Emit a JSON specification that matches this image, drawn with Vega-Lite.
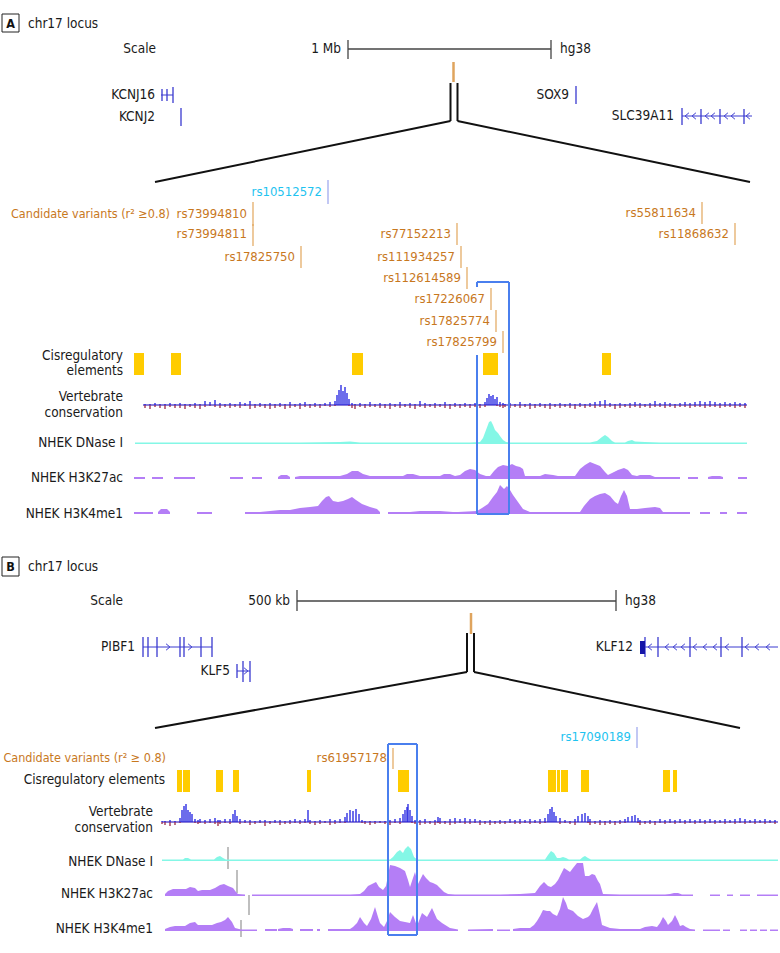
{
"$schema":"https://vega.github.io/schema/vega-lite/v6.json",
"width":780,"height":953,"padding":0,"autosize":{"type":"none"},
"background":"white",
"config":{"view":{"stroke":null},"font":"DejaVu Sans Condensed"},
"resolve":{"scale":{"y":"independent"}},
"datasets":{
"txtR":[
{"x":156,"y":49,"t":"Scale"},{"x":341,"y":49,"t":"1 Mb"},{"x":155,"y":95,"t":"KCNJ16"},{"x":155,"y":117,"t":"KCNJ2"},{"x":569,"y":95,"t":"SOX9"},{"x":674,"y":116,"t":"SLC39A11"},
{"x":123,"y":356,"t":"Cisregulatory"},{"x":123,"y":371,"t":"elements"},{"x":123,"y":397,"t":"Vertebrate"},{"x":123,"y":413,"t":"conservation"},{"x":123,"y":443,"t":"NHEK DNase I"},{"x":123,"y":478,"t":"NHEK H3K27ac"},{"x":123,"y":514,"t":"NHEK H3K4me1"},
{"x":123,"y":601,"t":"Scale"},{"x":290,"y":601,"t":"500 kb"},{"x":135,"y":647,"t":"PIBF1"},{"x":230,"y":671,"t":"KLF5"},{"x":633,"y":647,"t":"KLF12"},
{"x":165,"y":780,"t":"Cisregulatory elements"},{"x":153,"y":812,"t":"Vertebrate"},{"x":153,"y":828,"t":"conservation"},{"x":153,"y":862,"t":"NHEK DNase I"},{"x":153,"y":894,"t":"NHEK H3K27ac"},{"x":153,"y":929,"t":"NHEK H3K4me1"}],
"txtL":[{"x":28,"y":24,"t":"chr17 locus"},{"x":560,"y":49,"t":"hg38"},{"x":28,"y":567,"t":"chr17 locus"},{"x":625,"y":601,"t":"hg38"}],
"panels":[{"x":2,"x2":19,"y":14,"y2":32,"cx":10.5,"cy":23.5,"t":"A"},{"x":2,"x2":19,"y":557,"y2":576,"cx":10.5,"cy":567,"t":"B"}],
"cand":[{"x":170,"y":214,"t":"Candidate variants (r² ≥0.8)"},{"x":166,"y":758,"t":"Candidate variants (r² ≥ 0.8)"}],
"variants":[
{"x":328,"y":192,"t":"rs10512572","k":"l","top":180,"bot":204},
{"x":253,"y":214,"t":"rs73994810","k":"c","top":202,"bot":226},
{"x":253,"y":234,"t":"rs73994811","k":"c","top":224,"bot":246},
{"x":301,"y":257,"t":"rs17825750","k":"c","top":246,"bot":268},
{"x":457,"y":234,"t":"rs77152213","k":"c","top":223,"bot":245},
{"x":461,"y":257,"t":"rs111934257","k":"c","top":246,"bot":268},
{"x":467,"y":278,"t":"rs112614589","k":"c","top":267,"bot":289},
{"x":491,"y":299,"t":"rs17226067","k":"c","top":288,"bot":310},
{"x":496,"y":321,"t":"rs17825774","k":"c","top":310,"bot":332},
{"x":503,"y":342,"t":"rs17825799","k":"c","top":331,"bot":353},
{"x":702,"y":213,"t":"rs55811634","k":"c","top":202,"bot":224},
{"x":735,"y":234,"t":"rs11868632","k":"c","top":223,"bot":245},
{"x":637,"y":737,"t":"rs17090189","k":"l","top":727,"bot":748},
{"x":393,"y":758,"t":"rs61957178","k":"c","top":748,"bot":769}],
"scl":[{"x":348,"y":49,"x2":551,"y2":49},{"x":348,"y":40,"x2":348,"y2":59},{"x":551,"y":40,"x2":551,"y2":59},{"x":297,"y":601,"x2":616,"y2":601},{"x":297,"y":590,"x2":297,"y2":611},{"x":616,"y":590,"x2":616,"y2":611}],
"brk":[{"x":450.5,"y":83,"x2":450.5,"y2":121},{"x":457.5,"y":83,"x2":457.5,"y2":121},{"x":450.5,"y":121,"x2":155,"y2":182},{"x":457.5,"y":121,"x2":750,"y2":182},
{"x":467,"y":633,"x2":467,"y2":672},{"x":474,"y":633,"x2":474,"y2":672},{"x":467,"y":672,"x2":155,"y2":728},{"x":474,"y":672,"x2":740,"y2":728}],
"loc":[{"x":453.5,"y":62,"x2":453.5,"y2":82},{"x":471,"y":613,"x2":471,"y2":634}],
"bbox":[{"x":477,"y":282,"x2":509,"y2":282},{"x":509,"y":282,"x2":509,"y2":514},{"x":477,"y":514,"x2":509,"y2":514},{"x":477,"y":355,"x2":477,"y2":514},{"x":477,"y":282,"x2":477,"y2":287},
{"x":388,"y":744,"x2":417,"y2":744},{"x":417,"y":744,"x2":417,"y2":935},{"x":388,"y":935,"x2":417,"y2":935},{"x":388,"y":744,"x2":388,"y2":935}],
"gry":[{"x":228,"y":847,"x2":228,"y2":869},{"x":237,"y":870,"x2":237,"y2":893},{"x":249,"y":895,"x2":249,"y2":915},{"x":241,"y":920,"x2":241,"y2":937}],
"gl":[{"x":161,"y":95,"x2":173,"y2":95},{"x":682,"y":116,"x2":752,"y2":116},{"x":143,"y":647,"x2":212,"y2":647},{"x":237,"y":671,"x2":250,"y2":671},{"x":640,"y":647,"x2":778,"y2":647}],
"gt":[{"x":162,"y":89,"y2":101},{"x":167,"y":89,"y2":101},{"x":173,"y":87,"y2":103},{"x":181,"y":108,"y2":126},{"x":576,"y":86,"y2":104},
{"x":682,"y":108,"y2":125},{"x":701,"y":109,"y2":124},{"x":720,"y":109,"y2":124},{"x":744,"y":109,"y2":124},
{"x":143,"y":637,"y2":657},{"x":148,"y":637,"y2":657},{"x":157,"y":637,"y2":657},{"x":180,"y":637,"y2":657},{"x":184,"y":637,"y2":657},{"x":201,"y":637,"y2":657},{"x":212,"y":637,"y2":657},
{"x":237,"y":664,"y2":678},{"x":243,"y":661,"y2":682},{"x":250,"y":661,"y2":682},
{"x":645,"y":637,"y2":657},{"x":658,"y":637,"y2":657},{"x":690,"y":637,"y2":657},{"x":721,"y":637,"y2":657},{"x":742,"y":637,"y2":657}],
"chL":[{"x":687,"y":116},{"x":694,"y":116},{"x":707,"y":116},{"x":713,"y":116},{"x":726,"y":116},{"x":733,"y":116},{"x":748,"y":116},
{"x":650,"y":647},{"x":667,"y":647},{"x":675,"y":647},{"x":683,"y":647},{"x":695,"y":647},{"x":705,"y":647},{"x":715,"y":647},{"x":727,"y":647},{"x":747,"y":647},{"x":757,"y":647},{"x":768,"y":647}],
"chR":[{"x":168,"y":647},{"x":190,"y":647},{"x":246,"y":671}],
"gb":[{"x":640,"x2":645,"y":641,"y2":654}],
"cis":[{"x":134,"x2":144,"y":353,"y2":375},{"x":171,"x2":181,"y":353,"y2":375},{"x":352,"x2":363,"y":353,"y2":375},{"x":483,"x2":498,"y":353,"y2":375},{"x":602,"x2":611,"y":353,"y2":375},
{"x":177,"x2":182,"y":770,"y2":792},{"x":183,"x2":190,"y":770,"y2":792},{"x":216,"x2":223,"y":770,"y2":792},{"x":233,"x2":239,"y":770,"y2":792},{"x":307,"x2":311,"y":770,"y2":792},{"x":398,"x2":409,"y":770,"y2":792},{"x":548,"x2":556,"y":770,"y2":792},{"x":557,"x2":560,"y":770,"y2":792},{"x":561,"x2":568,"y":770,"y2":792},{"x":581,"x2":589,"y":770,"y2":792},{"x":663,"x2":670,"y":770,"y2":792},{"x":673,"x2":677,"y":770,"y2":792}],
"consA":[
{"x":145,"p":1,"n":-3},{"x":150,"p":1,"n":-4},{"x":155,"p":2,"n":-2},{"x":160,"p":1,"n":-3},{"x":165,"p":1,"n":-4},{"x":170,"p":2,"n":-2},{"x":175,"p":1,"n":-3},{"x":180,"p":2,"n":-3},{"x":185,"p":1,"n":-4},{"x":190,"p":1,"n":-2},{"x":195,"p":2,"n":-3},{"x":200,"p":1,"n":-4},{"x":205,"p":4,"n":-2},{"x":210,"p":3,"n":-1},{"x":215,"p":5,"n":-2},{"x":220,"p":2,"n":-3},{"x":225,"p":1,"n":-2},{"x":230,"p":2,"n":-3},{"x":235,"p":1,"n":-2},{"x":240,"p":3,"n":-3},{"x":245,"p":2,"n":-1},{"x":250,"p":4,"n":-4},{"x":255,"p":1,"n":-3},{"x":260,"p":2,"n":-2},{"x":265,"p":1,"n":-3},{"x":270,"p":2,"n":-4},{"x":275,"p":1,"n":-3},{"x":280,"p":2,"n":-2},{"x":285,"p":1,"n":-4},{"x":290,"p":3,"n":-3},{"x":295,"p":1,"n":-2},{"x":300,"p":2,"n":-4},{"x":305,"p":3,"n":-2},{"x":310,"p":1,"n":-3},{"x":315,"p":2,"n":-2},{"x":320,"p":1,"n":-3},{"x":325,"p":2,"n":-1},{"x":330,"p":3,"n":-2},{"x":335,"p":4,"n":-1},{"x":337,"p":10,"n":0},{"x":339,"p":15,"n":0},{"x":341,"p":20,"n":0},{"x":343,"p":14,"n":0},{"x":345,"p":18,"n":0},{"x":347,"p":12,"n":0},{"x":349,"p":6,"n":-1},{"x":352,"p":2,"n":-3},{"x":355,"p":1,"n":-4},{"x":360,"p":2,"n":-2},{"x":365,"p":1,"n":-3},{"x":370,"p":3,"n":-2},{"x":375,"p":1,"n":-2},{"x":380,"p":2,"n":-3},{"x":385,"p":1,"n":-3},{"x":390,"p":2,"n":-4},{"x":395,"p":1,"n":-2},{"x":400,"p":3,"n":-3},{"x":405,"p":1,"n":-2},{"x":410,"p":2,"n":-3},{"x":415,"p":1,"n":-4},{"x":420,"p":4,"n":-2},{"x":425,"p":2,"n":-3},{"x":430,"p":1,"n":-2},{"x":435,"p":2,"n":-3},{"x":440,"p":1,"n":-2},{"x":445,"p":3,"n":-3},{"x":450,"p":1,"n":-4},{"x":455,"p":2,"n":-2},{"x":460,"p":1,"n":-3},{"x":465,"p":2,"n":-2},{"x":470,"p":1,"n":-3},{"x":475,"p":2,"n":-2},{"x":480,"p":1,"n":-3},{"x":485,"p":3,"n":-2},{"x":487,"p":7,"n":0},{"x":489,"p":11,"n":0},{"x":491,"p":9,"n":0},{"x":493,"p":10,"n":0},{"x":495,"p":6,"n":0},{"x":497,"p":8,"n":-1},{"x":500,"p":3,"n":-2},{"x":503,"p":2,"n":-3},{"x":505,"p":1,"n":-2},{"x":510,"p":2,"n":-3},{"x":515,"p":1,"n":-2},{"x":520,"p":3,"n":-3},{"x":525,"p":1,"n":-2},{"x":530,"p":2,"n":-4},{"x":535,"p":1,"n":-3},{"x":540,"p":2,"n":-2},{"x":545,"p":1,"n":-3},{"x":550,"p":2,"n":-4},{"x":555,"p":1,"n":-2},{"x":560,"p":2,"n":-3},{"x":565,"p":1,"n":-2},{"x":570,"p":2,"n":-3},{"x":575,"p":1,"n":-4},{"x":580,"p":2,"n":-2},{"x":585,"p":1,"n":-3},{"x":590,"p":2,"n":-2},{"x":595,"p":3,"n":-3},{"x":600,"p":4,"n":-2},{"x":605,"p":5,"n":-3},{"x":610,"p":2,"n":-2},{"x":615,"p":1,"n":-4},{"x":620,"p":2,"n":-3},{"x":625,"p":1,"n":-2},{"x":630,"p":2,"n":-3},{"x":635,"p":3,"n":-2},{"x":640,"p":2,"n":-3},{"x":645,"p":1,"n":-2},{"x":650,"p":2,"n":-3},{"x":655,"p":4,"n":-2},{"x":660,"p":2,"n":-2},{"x":665,"p":3,"n":-3},{"x":670,"p":2,"n":-2},{"x":675,"p":1,"n":-3},{"x":680,"p":2,"n":-2},{"x":685,"p":3,"n":-2},{"x":690,"p":2,"n":-3},{"x":695,"p":3,"n":-2},{"x":700,"p":4,"n":-2},{"x":705,"p":3,"n":-3},{"x":710,"p":4,"n":-2},{"x":715,"p":3,"n":-2},{"x":720,"p":2,"n":-3},{"x":725,"p":3,"n":-2},{"x":730,"p":2,"n":-2},{"x":735,"p":3,"n":-3},{"x":740,"p":2,"n":-2},{"x":745,"p":2,"n":-3}],
"consB":[
{"x":162,"p":1,"n":-2},{"x":165,"p":1,"n":-3},{"x":170,"p":2,"n":-4},{"x":175,"p":1,"n":-3},{"x":180,"p":4,"n":-1},{"x":182,"p":12,"n":0},{"x":184,"p":16,"n":0},{"x":186,"p":18,"n":0},{"x":188,"p":12,"n":0},{"x":190,"p":10,"n":0},{"x":192,"p":8,"n":0},{"x":195,"p":3,"n":-1},{"x":198,"p":2,"n":-2},{"x":200,"p":3,"n":-1},{"x":205,"p":2,"n":-2},{"x":210,"p":3,"n":-1},{"x":215,"p":4,"n":-2},{"x":218,"p":2,"n":-4},{"x":220,"p":2,"n":-2},{"x":225,"p":3,"n":-1},{"x":230,"p":3,"n":-2},{"x":233,"p":8,"n":0},{"x":235,"p":12,"n":0},{"x":237,"p":6,"n":0},{"x":240,"p":3,"n":-2},{"x":245,"p":2,"n":-1},{"x":250,"p":2,"n":-3},{"x":255,"p":1,"n":-2},{"x":260,"p":2,"n":-1},{"x":265,"p":2,"n":-4},{"x":270,"p":1,"n":-2},{"x":275,"p":2,"n":-1},{"x":280,"p":2,"n":-3},{"x":285,"p":1,"n":-2},{"x":290,"p":2,"n":-2},{"x":295,"p":3,"n":-1},{"x":300,"p":2,"n":-2},{"x":305,"p":3,"n":-1},{"x":308,"p":12,"n":0},{"x":310,"p":2,"n":-2},{"x":315,"p":1,"n":-3},{"x":320,"p":2,"n":-2},{"x":325,"p":1,"n":-1},{"x":330,"p":3,"n":-3},{"x":335,"p":2,"n":-2},{"x":340,"p":3,"n":-1},{"x":345,"p":5,"n":-1},{"x":347,"p":9,"n":0},{"x":350,"p":12,"n":0},{"x":353,"p":11,"n":0},{"x":356,"p":13,"n":0},{"x":359,"p":8,"n":0},{"x":362,"p":2,"n":-1},{"x":365,"p":1,"n":-2},{"x":370,"p":1,"n":-3},{"x":375,"p":1,"n":-2},{"x":380,"p":1,"n":-1},{"x":385,"p":1,"n":-2},{"x":390,"p":2,"n":-3},{"x":395,"p":3,"n":-1},{"x":400,"p":4,"n":-2},{"x":403,"p":8,"n":0},{"x":405,"p":12,"n":0},{"x":407,"p":15,"n":0},{"x":408,"p":18,"n":0},{"x":410,"p":12,"n":0},{"x":412,"p":6,"n":-1},{"x":415,"p":2,"n":-2},{"x":420,"p":2,"n":-3},{"x":425,"p":3,"n":-2},{"x":430,"p":1,"n":-2},{"x":435,"p":2,"n":-3},{"x":438,"p":5,"n":-1},{"x":440,"p":4,"n":-2},{"x":445,"p":1,"n":-2},{"x":450,"p":3,"n":-3},{"x":455,"p":4,"n":-2},{"x":460,"p":3,"n":-1},{"x":465,"p":4,"n":-2},{"x":470,"p":3,"n":-2},{"x":475,"p":3,"n":-1},{"x":480,"p":2,"n":-3},{"x":485,"p":1,"n":-2},{"x":490,"p":2,"n":-3},{"x":495,"p":1,"n":-2},{"x":500,"p":2,"n":-2},{"x":505,"p":1,"n":-2},{"x":510,"p":3,"n":-1},{"x":515,"p":2,"n":-2},{"x":520,"p":3,"n":-2},{"x":525,"p":2,"n":-1},{"x":530,"p":3,"n":-2},{"x":535,"p":2,"n":-1},{"x":540,"p":3,"n":-2},{"x":545,"p":4,"n":-1},{"x":548,"p":8,"n":0},{"x":550,"p":13,"n":0},{"x":552,"p":15,"n":0},{"x":554,"p":10,"n":0},{"x":556,"p":6,"n":0},{"x":560,"p":4,"n":-2},{"x":565,"p":2,"n":-1},{"x":570,"p":1,"n":-2},{"x":575,"p":3,"n":-3},{"x":578,"p":6,"n":0},{"x":582,"p":8,"n":0},{"x":585,"p":9,"n":0},{"x":588,"p":6,"n":-1},{"x":590,"p":3,"n":-3},{"x":595,"p":1,"n":-2},{"x":600,"p":2,"n":-3},{"x":605,"p":1,"n":-3},{"x":610,"p":2,"n":-2},{"x":615,"p":1,"n":-3},{"x":620,"p":2,"n":-2},{"x":625,"p":3,"n":-1},{"x":628,"p":5,"n":0},{"x":632,"p":6,"n":0},{"x":635,"p":7,"n":0},{"x":638,"p":4,"n":-1},{"x":640,"p":2,"n":-3},{"x":645,"p":1,"n":-2},{"x":650,"p":2,"n":-2},{"x":655,"p":1,"n":-3},{"x":660,"p":3,"n":-1},{"x":665,"p":2,"n":-2},{"x":670,"p":3,"n":-1},{"x":675,"p":2,"n":-2},{"x":680,"p":3,"n":-1},{"x":685,"p":2,"n":-2},{"x":690,"p":3,"n":-1},{"x":695,"p":2,"n":-2},{"x":700,"p":3,"n":-1},{"x":705,"p":2,"n":-2},{"x":710,"p":3,"n":-1},{"x":715,"p":2,"n":-2},{"x":720,"p":2,"n":-1},{"x":725,"p":3,"n":-2},{"x":730,"p":2,"n":-1},{"x":735,"p":3,"n":-2},{"x":740,"p":4,"n":-1},{"x":745,"p":3,"n":-2},{"x":750,"p":2,"n":-1},{"x":755,"p":3,"n":-2},{"x":760,"p":2,"n":-1},{"x":765,"p":3,"n":-2},{"x":770,"p":2,"n":-1},{"x":775,"p":2,"n":-2}],
"dnA":[{"s":1,"x":135,"v":1.5},{"s":1,"x":200,"v":1.5},{"s":1,"x":300,"v":1.5},{"s":1,"x":340,"v":2},{"s":1,"x":350,"v":2.5},{"s":1,"x":360,"v":1.5},{"s":1,"x":470,"v":1.5},{"s":1,"x":480,"v":2},{"s":1,"x":483,"v":6},{"s":1,"x":486,"v":14},{"s":1,"x":489,"v":22},{"s":1,"x":491,"v":23},{"s":1,"x":493,"v":19},{"s":1,"x":495,"v":14},{"s":1,"x":498,"v":11},{"s":1,"x":500,"v":8},{"s":1,"x":503,"v":4},{"s":1,"x":506,"v":2},{"s":1,"x":510,"v":1.5},{"s":1,"x":590,"v":1.5},{"s":1,"x":597,"v":3},{"s":1,"x":602,"v":7},{"s":1,"x":605,"v":9},{"s":1,"x":608,"v":7},{"s":1,"x":612,"v":3},{"s":1,"x":615,"v":1.5},{"s":1,"x":625,"v":1.5},{"s":1,"x":628,"v":3},{"s":1,"x":632,"v":4},{"s":1,"x":635,"v":2.5},{"s":1,"x":645,"v":2},{"s":1,"x":660,"v":1.5},{"s":1,"x":747,"v":1.5}],
"k27A":[{"s":1,"x":134,"v":2},{"s":1,"x":145,"v":2},{"s":2,"x":152,"v":2},{"s":2,"x":163,"v":2},{"s":3,"x":174,"v":2},{"s":3,"x":195,"v":2},{"s":4,"x":230,"v":2},{"s":4,"x":243,"v":2},{"s":5,"x":252,"v":2},{"s":5,"x":262,"v":2},{"s":6,"x":278,"v":2},{"s":6,"x":281,"v":4},{"s":6,"x":287,"v":4},{"s":6,"x":290,"v":2},
{"s":7,"x":295,"v":2},{"s":7,"x":300,"v":3},{"s":7,"x":320,"v":3},{"s":7,"x":340,"v":3},{"s":7,"x":347,"v":5},{"s":7,"x":352,"v":8},{"s":7,"x":358,"v":8},{"s":7,"x":363,"v":5},{"s":7,"x":370,"v":3},{"s":7,"x":390,"v":3},{"s":7,"x":403,"v":3},{"s":7,"x":407,"v":5},{"s":7,"x":413,"v":5},{"s":7,"x":420,"v":3},{"s":7,"x":440,"v":3},{"s":7,"x":444,"v":5},{"s":7,"x":450,"v":5},{"s":7,"x":455,"v":3},{"s":7,"x":460,"v":4},{"s":7,"x":465,"v":8},{"s":7,"x":470,"v":10},{"s":7,"x":475,"v":9},{"s":7,"x":480,"v":5},{"s":7,"x":486,"v":3},{"s":7,"x":490,"v":3},{"s":7,"x":494,"v":8},{"s":7,"x":498,"v":12},{"s":7,"x":503,"v":14},{"s":7,"x":508,"v":13},{"s":7,"x":512,"v":15},{"s":7,"x":516,"v":13},{"s":7,"x":520,"v":12},{"s":7,"x":523,"v":10},{"s":7,"x":525,"v":3},{"s":7,"x":540,"v":3},{"s":7,"x":545,"v":5},{"s":7,"x":553,"v":4},{"s":7,"x":558,"v":3},{"s":7,"x":575,"v":3},{"s":7,"x":580,"v":10},{"s":7,"x":585,"v":14},{"s":7,"x":590,"v":17},{"s":7,"x":595,"v":15},{"s":7,"x":600,"v":13},{"s":7,"x":605,"v":7},{"s":7,"x":608,"v":4},{"s":7,"x":612,"v":6},{"s":7,"x":618,"v":9},{"s":7,"x":624,"v":11},{"s":7,"x":628,"v":9},{"s":7,"x":632,"v":4},{"s":7,"x":637,"v":3},{"s":7,"x":640,"v":4},{"s":7,"x":650,"v":4},{"s":7,"x":655,"v":2},{"s":7,"x":680,"v":2},
{"s":8,"x":688,"v":2},{"s":8,"x":698,"v":2},{"s":9,"x":708,"v":2},{"s":9,"x":712,"v":3},{"s":9,"x":720,"v":3},{"s":9,"x":723,"v":2},{"s":10,"x":738,"v":2},{"s":10,"x":747,"v":2}],
"k4A":[{"s":1,"x":134,"v":2},{"s":1,"x":153,"v":2},{"s":2,"x":158,"v":2},{"s":2,"x":161,"v":5},{"s":2,"x":167,"v":5},{"s":2,"x":170,"v":2},{"s":3,"x":197,"v":2},{"s":3,"x":212,"v":2},
{"s":4,"x":245,"v":2},{"s":4,"x":260,"v":2},{"s":4,"x":270,"v":3},{"s":4,"x":280,"v":4},{"s":4,"x":290,"v":4},{"s":4,"x":300,"v":6},{"s":4,"x":310,"v":7},{"s":4,"x":318,"v":8},{"s":4,"x":322,"v":13},{"s":4,"x":326,"v":17},{"s":4,"x":329,"v":18},{"s":4,"x":333,"v":13},{"s":4,"x":338,"v":12},{"s":4,"x":343,"v":13},{"s":4,"x":348,"v":15},{"s":4,"x":352,"v":17},{"s":4,"x":356,"v":14},{"s":4,"x":362,"v":10},{"s":4,"x":370,"v":7},{"s":4,"x":377,"v":5},{"s":4,"x":380,"v":2},
{"s":5,"x":388,"v":2},{"s":5,"x":410,"v":2},{"s":5,"x":420,"v":3},{"s":5,"x":440,"v":3},{"s":5,"x":453,"v":2},{"s":5,"x":458,"v":2},{"s":5,"x":477,"v":3},{"s":5,"x":482,"v":6},{"s":5,"x":488,"v":10},{"s":5,"x":493,"v":17},{"s":5,"x":497,"v":22},{"s":5,"x":500,"v":29},{"s":5,"x":504,"v":25},{"s":5,"x":507,"v":28},{"s":5,"x":510,"v":24},{"s":5,"x":513,"v":19},{"s":5,"x":518,"v":12},{"s":5,"x":523,"v":5},{"s":5,"x":530,"v":2},{"s":5,"x":580,"v":2},{"s":5,"x":584,"v":8},{"s":5,"x":590,"v":15},{"s":5,"x":595,"v":18},{"s":5,"x":600,"v":20},{"s":5,"x":605,"v":21},{"s":5,"x":610,"v":18},{"s":5,"x":615,"v":12},{"s":5,"x":618,"v":10},{"s":5,"x":621,"v":18},{"s":5,"x":624,"v":24},{"s":5,"x":627,"v":18},{"s":5,"x":630,"v":5},{"s":5,"x":637,"v":5},{"s":5,"x":645,"v":6},{"s":5,"x":655,"v":7},{"s":5,"x":660,"v":6},{"s":5,"x":663,"v":2},{"s":5,"x":690,"v":2},
{"s":6,"x":700,"v":2},{"s":6,"x":710,"v":2},{"s":7,"x":720,"v":2},{"s":7,"x":727,"v":2},{"s":8,"x":737,"v":2},{"s":8,"x":747,"v":2}],
"dnB":[{"s":1,"x":162,"v":1.5},{"s":1,"x":183,"v":1.5},{"s":1,"x":185,"v":3},{"s":1,"x":188,"v":3},{"s":1,"x":191,"v":1.5},{"s":1,"x":214,"v":1.5},{"s":1,"x":217,"v":4},{"s":1,"x":220,"v":5},{"s":1,"x":223,"v":3},{"s":1,"x":226,"v":1.5},{"s":1,"x":390,"v":1.5},{"s":1,"x":393,"v":4},{"s":1,"x":397,"v":9},{"s":1,"x":400,"v":11},{"s":1,"x":403,"v":8},{"s":1,"x":405,"v":12},{"s":1,"x":408,"v":15},{"s":1,"x":411,"v":12},{"s":1,"x":414,"v":4},{"s":1,"x":417,"v":1.5},{"s":1,"x":545,"v":1.5},{"s":1,"x":548,"v":6},{"s":1,"x":551,"v":10},{"s":1,"x":554,"v":8},{"s":1,"x":557,"v":3},{"s":1,"x":560,"v":3},{"s":1,"x":563,"v":4},{"s":1,"x":566,"v":3},{"s":1,"x":569,"v":1.5},{"s":1,"x":580,"v":1.5},{"s":1,"x":583,"v":4},{"s":1,"x":585,"v":5},{"s":1,"x":588,"v":3},{"s":1,"x":591,"v":1.5},{"s":1,"x":778,"v":1.5}],
"k27B":[{"s":1,"x":165,"v":2},{"s":1,"x":168,"v":5},{"s":1,"x":173,"v":7},{"s":1,"x":180,"v":7},{"s":1,"x":186,"v":7},{"s":1,"x":190,"v":9},{"s":1,"x":195,"v":8},{"s":1,"x":198,"v":5},{"s":1,"x":202,"v":6},{"s":1,"x":210,"v":6},{"s":1,"x":215,"v":8},{"s":1,"x":220,"v":11},{"s":1,"x":224,"v":12},{"s":1,"x":228,"v":10},{"s":1,"x":233,"v":8},{"s":1,"x":236,"v":4},{"s":1,"x":238,"v":2},{"s":1,"x":245,"v":1.5},
{"s":2,"x":252,"v":1.5},{"s":2,"x":300,"v":1.5},{"s":2,"x":350,"v":1.5},{"s":2,"x":360,"v":2},{"s":2,"x":364,"v":5},{"s":2,"x":368,"v":10},{"s":2,"x":372,"v":12},{"s":2,"x":376,"v":14},{"s":2,"x":379,"v":9},{"s":2,"x":383,"v":6},{"s":2,"x":386,"v":10},{"s":2,"x":390,"v":31},{"s":2,"x":395,"v":30},{"s":2,"x":400,"v":28},{"s":2,"x":405,"v":25},{"s":2,"x":408,"v":16},{"s":2,"x":410,"v":9},{"s":2,"x":413,"v":18},{"s":2,"x":415,"v":24},{"s":2,"x":418,"v":12},{"s":2,"x":420,"v":16},{"s":2,"x":423,"v":22},{"s":2,"x":426,"v":18},{"s":2,"x":430,"v":14},{"s":2,"x":433,"v":13},{"s":2,"x":437,"v":11},{"s":2,"x":440,"v":8},{"s":2,"x":444,"v":4},{"s":2,"x":448,"v":2},{"s":2,"x":455,"v":1.5},{"s":2,"x":500,"v":1.5},{"s":2,"x":520,"v":2},{"s":2,"x":535,"v":3},{"s":2,"x":540,"v":10},{"s":2,"x":544,"v":14},{"s":2,"x":548,"v":10},{"s":2,"x":551,"v":9},{"s":2,"x":555,"v":12},{"s":2,"x":558,"v":16},{"s":2,"x":561,"v":22},{"s":2,"x":564,"v":28},{"s":2,"x":567,"v":26},{"s":2,"x":570,"v":24},{"s":2,"x":573,"v":28},{"s":2,"x":577,"v":33},{"s":2,"x":583,"v":33},{"s":2,"x":585,"v":20},{"s":2,"x":589,"v":20},{"s":2,"x":592,"v":22},{"s":2,"x":595,"v":21},{"s":2,"x":598,"v":15},{"s":2,"x":600,"v":12},{"s":2,"x":603,"v":2},{"s":2,"x":620,"v":1.5},{"s":2,"x":665,"v":1.5},{"s":2,"x":670,"v":2},{"s":2,"x":674,"v":3},{"s":2,"x":678,"v":3},{"s":2,"x":682,"v":1.5},{"s":2,"x":693,"v":1.5},
{"s":3,"x":710,"v":1.5},{"s":3,"x":720,"v":1.5},{"s":4,"x":727,"v":1.5},{"s":4,"x":733,"v":1.5},{"s":5,"x":740,"v":1.5},{"s":5,"x":750,"v":1.5},{"s":6,"x":757,"v":1.5},{"s":6,"x":778,"v":1.5}],
"k4B":[{"s":1,"x":165,"v":2},{"s":1,"x":170,"v":4},{"s":1,"x":175,"v":5},{"s":1,"x":185,"v":5},{"s":1,"x":190,"v":8},{"s":1,"x":195,"v":9},{"s":1,"x":198,"v":6},{"s":1,"x":205,"v":6},{"s":1,"x":212,"v":6},{"s":1,"x":217,"v":8},{"s":1,"x":221,"v":9},{"s":1,"x":225,"v":11},{"s":1,"x":228,"v":14},{"s":1,"x":232,"v":9},{"s":1,"x":235,"v":3},{"s":1,"x":241,"v":1.5},{"s":1,"x":257,"v":1.5},
{"s":2,"x":265,"v":2},{"s":2,"x":277,"v":2},{"s":3,"x":278,"v":2},{"s":3,"x":283,"v":3},{"s":3,"x":290,"v":3},{"s":3,"x":293,"v":2},{"s":4,"x":300,"v":2},{"s":4,"x":313,"v":2},{"s":5,"x":317,"v":2},{"s":5,"x":320,"v":2},
{"s":6,"x":328,"v":2},{"s":6,"x":350,"v":2},{"s":6,"x":353,"v":4},{"s":6,"x":357,"v":8},{"s":6,"x":360,"v":14},{"s":6,"x":364,"v":8},{"s":6,"x":367,"v":5},{"s":6,"x":371,"v":12},{"s":6,"x":375,"v":24},{"s":6,"x":378,"v":14},{"s":6,"x":380,"v":8},{"s":6,"x":384,"v":4},{"s":6,"x":387,"v":10},{"s":6,"x":390,"v":19},{"s":6,"x":395,"v":14},{"s":6,"x":400,"v":10},{"s":6,"x":405,"v":9},{"s":6,"x":410,"v":8},{"s":6,"x":413,"v":16},{"s":6,"x":417,"v":5},{"s":6,"x":422,"v":18},{"s":6,"x":427,"v":14},{"s":6,"x":432,"v":23},{"s":6,"x":437,"v":12},{"s":6,"x":442,"v":8},{"s":6,"x":450,"v":3},{"s":6,"x":458,"v":1.5},
{"s":7,"x":468,"v":1.5},{"s":7,"x":493,"v":2},{"s":8,"x":497,"v":1.5},{"s":8,"x":510,"v":1.5},
{"s":9,"x":513,"v":2},{"s":9,"x":520,"v":3},{"s":9,"x":530,"v":3},{"s":9,"x":534,"v":6},{"s":9,"x":537,"v":10},{"s":9,"x":540,"v":15},{"s":9,"x":543,"v":21},{"s":9,"x":547,"v":20},{"s":9,"x":550,"v":20},{"s":9,"x":553,"v":17},{"s":9,"x":557,"v":15},{"s":9,"x":560,"v":22},{"s":9,"x":563,"v":34},{"s":9,"x":566,"v":28},{"s":9,"x":568,"v":22},{"s":9,"x":573,"v":20},{"s":9,"x":578,"v":15},{"s":9,"x":583,"v":12},{"s":9,"x":588,"v":14},{"s":9,"x":590,"v":16},{"s":9,"x":593,"v":22},{"s":9,"x":597,"v":29},{"s":9,"x":600,"v":16},{"s":9,"x":602,"v":6},{"s":9,"x":610,"v":3},{"s":9,"x":620,"v":2},{"s":9,"x":640,"v":2},{"s":9,"x":645,"v":4},{"s":9,"x":652,"v":5},{"s":9,"x":657,"v":4},{"s":9,"x":660,"v":8},{"s":9,"x":663,"v":14},{"s":9,"x":666,"v":10},{"s":9,"x":668,"v":6},{"s":9,"x":672,"v":10},{"s":9,"x":675,"v":16},{"s":9,"x":678,"v":10},{"s":9,"x":680,"v":5},{"s":9,"x":683,"v":6},{"s":9,"x":686,"v":4},{"s":9,"x":690,"v":2},{"s":9,"x":695,"v":1.5},
{"s":10,"x":703,"v":1.5},{"s":10,"x":720,"v":1.5},{"s":11,"x":723,"v":1.5},{"s":11,"x":730,"v":1.5},{"s":12,"x":740,"v":1.5},{"s":12,"x":747,"v":1.5},{"s":13,"x":750,"v":1.5},{"s":13,"x":757,"v":1.5},{"s":14,"x":760,"v":1.5},{"s":14,"x":767,"v":1.5},{"s":15,"x":770,"v":1.5},{"s":15,"x":778,"v":1.5}]
},
"layer":[
{"layer":[
 {"data":{"name":"cis"},"mark":{"type":"rect","color":"#FFCC00"},
  "encoding":{"x":{"field":"x","type":"quantitative","scale":{"domain":[0,780],"range":[0,780],"nice":false,"zero":false},"axis":null},"x2":{"field":"x2"},
   "y":{"field":"y","type":"quantitative","scale":{"domain":[0,953],"range":[0,953],"nice":false,"zero":false},"axis":null},"y2":{"field":"y2"}}},
 {"data":{"name":"panels"},"mark":{"type":"rect","fill":"white","stroke":"#222","strokeWidth":1},
  "encoding":{"x":{"field":"x","type":"quantitative","scale":{"domain":[0,780],"range":[0,780],"nice":false,"zero":false},"axis":null},"x2":{"field":"x2"},
   "y":{"field":"y","type":"quantitative","scale":{"domain":[0,953],"range":[0,953],"nice":false,"zero":false},"axis":null},"y2":{"field":"y2"}}},
 {"data":{"name":"panels"},"mark":{"type":"text","align":"center","baseline":"middle","fontSize":12.5,"fontWeight":"bold","color":"#111"},
  "encoding":{"x":{"field":"cx","type":"quantitative","scale":{"domain":[0,780],"range":[0,780],"nice":false,"zero":false},"axis":null},
   "y":{"field":"cy","type":"quantitative","scale":{"domain":[0,953],"range":[0,953],"nice":false,"zero":false},"axis":null},"text":{"field":"t"}}},
 {"data":{"name":"txtR"},"mark":{"type":"text","align":"right","baseline":"middle","fontSize":13.5,"color":"#1a1a1a"},
  "encoding":{"x":{"field":"x","type":"quantitative","scale":{"domain":[0,780],"range":[0,780],"nice":false,"zero":false},"axis":null},
   "y":{"field":"y","type":"quantitative","scale":{"domain":[0,953],"range":[0,953],"nice":false,"zero":false},"axis":null},"text":{"field":"t"}}},
 {"data":{"name":"txtL"},"mark":{"type":"text","align":"left","baseline":"middle","fontSize":13.5,"color":"#1a1a1a"},
  "encoding":{"x":{"field":"x","type":"quantitative","scale":{"domain":[0,780],"range":[0,780],"nice":false,"zero":false},"axis":null},
   "y":{"field":"y","type":"quantitative","scale":{"domain":[0,953],"range":[0,953],"nice":false,"zero":false},"axis":null},"text":{"field":"t"}}},
 {"data":{"name":"cand"},"mark":{"type":"text","align":"right","baseline":"middle","fontSize":12.5,"color":"#C8781E"},
  "encoding":{"x":{"field":"x","type":"quantitative","scale":{"domain":[0,780],"range":[0,780],"nice":false,"zero":false},"axis":null},
   "y":{"field":"y","type":"quantitative","scale":{"domain":[0,953],"range":[0,953],"nice":false,"zero":false},"axis":null},"text":{"field":"t"}}},
 {"data":{"name":"variants"},"transform":[{"filter":"datum.k=='c'"}],"mark":{"type":"text","align":"right","baseline":"middle","fontSize":13,"dx":-6,"color":"#C8781E"},
  "encoding":{"x":{"field":"x","type":"quantitative","scale":{"domain":[0,780],"range":[0,780],"nice":false,"zero":false},"axis":null},
   "y":{"field":"y","type":"quantitative","scale":{"domain":[0,953],"range":[0,953],"nice":false,"zero":false},"axis":null},"text":{"field":"t"}}},
 {"data":{"name":"variants"},"transform":[{"filter":"datum.k=='l'"}],"mark":{"type":"text","align":"right","baseline":"middle","fontSize":13,"dx":-6,"color":"#1EC3F0"},
  "encoding":{"x":{"field":"x","type":"quantitative","scale":{"domain":[0,780],"range":[0,780],"nice":false,"zero":false},"axis":null},
   "y":{"field":"y","type":"quantitative","scale":{"domain":[0,953],"range":[0,953],"nice":false,"zero":false},"axis":null},"text":{"field":"t"}}},
 {"data":{"name":"variants"},"transform":[{"filter":"datum.k=='c'"}],"mark":{"type":"rule","color":"#E2A65C","strokeWidth":1.2},
  "encoding":{"x":{"field":"x","type":"quantitative","scale":{"domain":[0,780],"range":[0,780],"nice":false,"zero":false},"axis":null},
   "y":{"field":"top","type":"quantitative","scale":{"domain":[0,953],"range":[0,953],"nice":false,"zero":false},"axis":null},"y2":{"field":"bot"}}},
 {"data":{"name":"variants"},"transform":[{"filter":"datum.k=='l'"}],"mark":{"type":"rule","color":"#AEB6F0","strokeWidth":1.5},
  "encoding":{"x":{"field":"x","type":"quantitative","scale":{"domain":[0,780],"range":[0,780],"nice":false,"zero":false},"axis":null},
   "y":{"field":"top","type":"quantitative","scale":{"domain":[0,953],"range":[0,953],"nice":false,"zero":false},"axis":null},"y2":{"field":"bot"}}},
 {"data":{"name":"scl"},"mark":{"type":"rule","color":"#444","strokeWidth":1.3},
  "encoding":{"x":{"field":"x","type":"quantitative","scale":{"domain":[0,780],"range":[0,780],"nice":false,"zero":false},"axis":null},"x2":{"field":"x2"},
   "y":{"field":"y","type":"quantitative","scale":{"domain":[0,953],"range":[0,953],"nice":false,"zero":false},"axis":null},"y2":{"field":"y2"}}},
 {"data":{"name":"brk"},"mark":{"type":"rule","color":"#111","strokeWidth":2},
  "encoding":{"x":{"field":"x","type":"quantitative","scale":{"domain":[0,780],"range":[0,780],"nice":false,"zero":false},"axis":null},"x2":{"field":"x2"},
   "y":{"field":"y","type":"quantitative","scale":{"domain":[0,953],"range":[0,953],"nice":false,"zero":false},"axis":null},"y2":{"field":"y2"}}},
 {"data":{"name":"loc"},"mark":{"type":"rule","color":"#DFA45E","strokeWidth":2.5},
  "encoding":{"x":{"field":"x","type":"quantitative","scale":{"domain":[0,780],"range":[0,780],"nice":false,"zero":false},"axis":null},"x2":{"field":"x2"},
   "y":{"field":"y","type":"quantitative","scale":{"domain":[0,953],"range":[0,953],"nice":false,"zero":false},"axis":null},"y2":{"field":"y2"}}},
 {"data":{"name":"gry"},"mark":{"type":"rule","color":"#AAAAAA","strokeWidth":1.5},
  "encoding":{"x":{"field":"x","type":"quantitative","scale":{"domain":[0,780],"range":[0,780],"nice":false,"zero":false},"axis":null},"x2":{"field":"x2"},
   "y":{"field":"y","type":"quantitative","scale":{"domain":[0,953],"range":[0,953],"nice":false,"zero":false},"axis":null},"y2":{"field":"y2"}}},
 {"data":{"name":"gl"},"mark":{"type":"rule","color":"#3A3AD0","strokeWidth":1},
  "encoding":{"x":{"field":"x","type":"quantitative","scale":{"domain":[0,780],"range":[0,780],"nice":false,"zero":false},"axis":null},"x2":{"field":"x2"},
   "y":{"field":"y","type":"quantitative","scale":{"domain":[0,953],"range":[0,953],"nice":false,"zero":false},"axis":null},"y2":{"field":"y2"}}},
 {"data":{"name":"gt"},"mark":{"type":"rule","color":"#3A3AD0","strokeWidth":1.3},
  "encoding":{"x":{"field":"x","type":"quantitative","scale":{"domain":[0,780],"range":[0,780],"nice":false,"zero":false},"axis":null},
   "y":{"field":"y","type":"quantitative","scale":{"domain":[0,953],"range":[0,953],"nice":false,"zero":false},"axis":null},"y2":{"field":"y2"}}},
 {"data":{"name":"gb"},"mark":{"type":"rect","color":"#1515A8"},
  "encoding":{"x":{"field":"x","type":"quantitative","scale":{"domain":[0,780],"range":[0,780],"nice":false,"zero":false},"axis":null},"x2":{"field":"x2"},
   "y":{"field":"y","type":"quantitative","scale":{"domain":[0,953],"range":[0,953],"nice":false,"zero":false},"axis":null},"y2":{"field":"y2"}}},
 {"data":{"name":"chL"},"mark":{"type":"point","shape":"M0.6,-1L-0.6,0L0.6,1","filled":false,"size":40,"stroke":"#3A3AD0","strokeWidth":1,"opacity":1},
  "encoding":{"x":{"field":"x","type":"quantitative","scale":{"domain":[0,780],"range":[0,780],"nice":false,"zero":false},"axis":null},
   "y":{"field":"y","type":"quantitative","scale":{"domain":[0,953],"range":[0,953],"nice":false,"zero":false},"axis":null}}},
 {"data":{"name":"chR"},"mark":{"type":"point","shape":"M-0.6,-1L0.6,0L-0.6,1","filled":false,"size":40,"stroke":"#3A3AD0","strokeWidth":1,"opacity":1},
  "encoding":{"x":{"field":"x","type":"quantitative","scale":{"domain":[0,780],"range":[0,780],"nice":false,"zero":false},"axis":null},
   "y":{"field":"y","type":"quantitative","scale":{"domain":[0,953],"range":[0,953],"nice":false,"zero":false},"axis":null}}}
]},
{"data":{"name":"consA"},"layer":[
 {"mark":{"type":"rule","color":"#8C7FD8","strokeWidth":0.8},"encoding":{"x":{"datum":143,"type":"quantitative","scale":{"domain":[0,780],"range":[0,780],"nice":false,"zero":false},"axis":null},"x2":{"datum":747},"y":{"datum":0,"type":"quantitative","scale":{"domain":[-10,25],"range":[415,380],"nice":false,"zero":false},"axis":null}}},
 {"mark":{"type":"rule","color":"#1E1EE0","strokeWidth":1.3},"encoding":{"x":{"field":"x","type":"quantitative","scale":{"domain":[0,780],"range":[0,780],"nice":false,"zero":false},"axis":null},"y":{"field":"p","type":"quantitative","scale":{"domain":[-10,25],"range":[415,380],"nice":false,"zero":false},"axis":null},"y2":{"datum":0}}},
 {"mark":{"type":"rule","color":"#9A2848","strokeWidth":1.3},"encoding":{"x":{"field":"x","type":"quantitative","scale":{"domain":[0,780],"range":[0,780],"nice":false,"zero":false},"axis":null},"y":{"field":"n","type":"quantitative","scale":{"domain":[-10,25],"range":[415,380],"nice":false,"zero":false},"axis":null},"y2":{"datum":0}}}
]},
{"data":{"name":"consB"},"layer":[
 {"mark":{"type":"rule","color":"#8C7FD8","strokeWidth":0.8},"encoding":{"x":{"datum":162,"type":"quantitative","scale":{"domain":[0,780],"range":[0,780],"nice":false,"zero":false},"axis":null},"x2":{"datum":778},"y":{"datum":0,"type":"quantitative","scale":{"domain":[-10,25],"range":[832,797],"nice":false,"zero":false},"axis":null}}},
 {"mark":{"type":"rule","color":"#1E1EE0","strokeWidth":1.3},"encoding":{"x":{"field":"x","type":"quantitative","scale":{"domain":[0,780],"range":[0,780],"nice":false,"zero":false},"axis":null},"y":{"field":"p","type":"quantitative","scale":{"domain":[-10,25],"range":[832,797],"nice":false,"zero":false},"axis":null},"y2":{"datum":0}}},
 {"mark":{"type":"rule","color":"#9A2848","strokeWidth":1.3},"encoding":{"x":{"field":"x","type":"quantitative","scale":{"domain":[0,780],"range":[0,780],"nice":false,"zero":false},"axis":null},"y":{"field":"n","type":"quantitative","scale":{"domain":[-10,25],"range":[832,797],"nice":false,"zero":false},"axis":null},"y2":{"datum":0}}}
]},
{"data":{"name":"dnA"},"mark":{"type":"area","color":"#84F7E6"},"encoding":{"x":{"field":"x","type":"quantitative","scale":{"domain":[0,780],"range":[0,780],"nice":false,"zero":false},"axis":null},"y":{"field":"v","type":"quantitative","scale":{"domain":[0,30],"range":[444,414],"nice":false,"zero":false},"axis":null},"y2":{"datum":0},"detail":{"field":"s","type":"nominal"}}},
{"data":{"name":"k27A"},"mark":{"type":"area","color":"#B47EF6"},"encoding":{"x":{"field":"x","type":"quantitative","scale":{"domain":[0,780],"range":[0,780],"nice":false,"zero":false},"axis":null},"y":{"field":"v","type":"quantitative","scale":{"domain":[0,30],"range":[479,449],"nice":false,"zero":false},"axis":null},"y2":{"datum":0},"detail":{"field":"s","type":"nominal"}}},
{"data":{"name":"k4A"},"mark":{"type":"area","color":"#B47EF6"},"encoding":{"x":{"field":"x","type":"quantitative","scale":{"domain":[0,780],"range":[0,780],"nice":false,"zero":false},"axis":null},"y":{"field":"v","type":"quantitative","scale":{"domain":[0,30],"range":[514,484],"nice":false,"zero":false},"axis":null},"y2":{"datum":0},"detail":{"field":"s","type":"nominal"}}},
{"data":{"name":"dnB"},"mark":{"type":"area","color":"#84F7E6"},"encoding":{"x":{"field":"x","type":"quantitative","scale":{"domain":[0,780],"range":[0,780],"nice":false,"zero":false},"axis":null},"y":{"field":"v","type":"quantitative","scale":{"domain":[0,30],"range":[861,831],"nice":false,"zero":false},"axis":null},"y2":{"datum":0},"detail":{"field":"s","type":"nominal"}}},
{"data":{"name":"k27B"},"mark":{"type":"area","color":"#B47EF6"},"encoding":{"x":{"field":"x","type":"quantitative","scale":{"domain":[0,780],"range":[0,780],"nice":false,"zero":false},"axis":null},"y":{"field":"v","type":"quantitative","scale":{"domain":[0,30],"range":[896,866],"nice":false,"zero":false},"axis":null},"y2":{"datum":0},"detail":{"field":"s","type":"nominal"}}},
{"data":{"name":"k4B"},"mark":{"type":"area","color":"#B47EF6"},"encoding":{"x":{"field":"x","type":"quantitative","scale":{"domain":[0,780],"range":[0,780],"nice":false,"zero":false},"axis":null},"y":{"field":"v","type":"quantitative","scale":{"domain":[0,30],"range":[931,901],"nice":false,"zero":false},"axis":null},"y2":{"datum":0},"detail":{"field":"s","type":"nominal"}}},
{"data":{"name":"bbox"},"mark":{"type":"rule","color":"#4A7FEE","strokeWidth":2},
  "encoding":{"x":{"field":"x","type":"quantitative","scale":{"domain":[0,780],"range":[0,780],"nice":false,"zero":false},"axis":null},"x2":{"field":"x2"},
   "y":{"field":"y","type":"quantitative","scale":{"domain":[0,953],"range":[0,953],"nice":false,"zero":false},"axis":null},"y2":{"field":"y2"}}}
]
}
